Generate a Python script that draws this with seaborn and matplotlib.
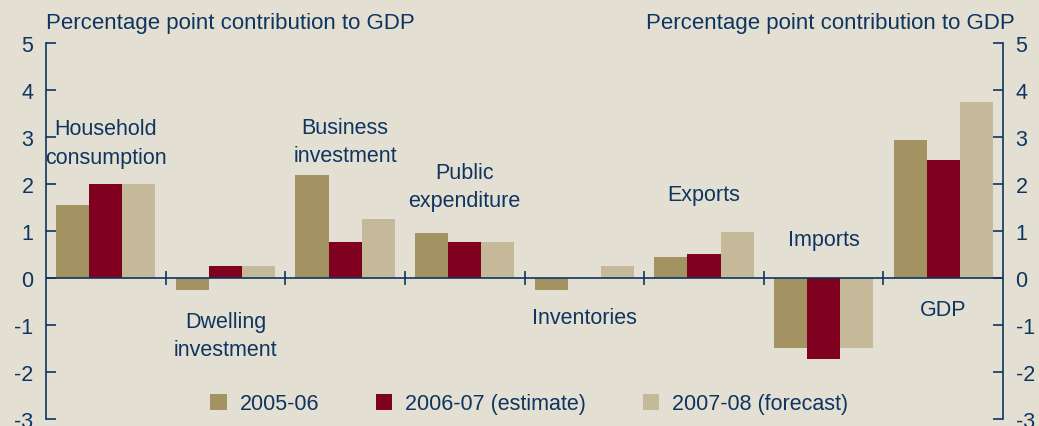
import pandas as pd
import seaborn as sns
import matplotlib.pyplot as plt

# Chart data
categories = ["Household\nconsumption", "Dwelling\ninvestment", "Business\ninvestment",
              "Public\nexpenditure", "Inventories", "Exports", "Imports", "GDP"]
series = ["2005-06", "2006-07 (estimate)", "2007-08 (forecast)"]
v_2005 = [1.55, -0.25, 2.2, 0.95, -0.25, 0.45, -1.5, 2.93]
v_2006 = [2.0, 0.25, 0.77, 0.77, 0.0, 0.52, -1.72, 2.5]
v_2007 = [2.0, 0.25, 1.25, 0.77, 0.25, 0.98, -1.5, 3.75]
# label anchor heights (data units)
label_y = [2.87, -1.22, 2.9, 1.95, -0.85, 1.78, 0.82, -0.68]

bg = "#E4DFD3"
ink = "#0E3560"
palette = {"2005-06": "#A39262", "2006-07 (estimate)": "#800020", "2007-08 (forecast)": "#C6B99A"}

sns.set_theme(style="white")
plt.rcParams['font.family'] = ['Liberation Sans', 'DejaVu Sans']
plt.rcParams['axes.unicode_minus'] = False

df = pd.DataFrame({
    "category": categories * 3,
    "series": [series[0]] * 8 + [series[1]] * 8 + [series[2]] * 8,
    "value": v_2005 + v_2006 + v_2007,
})

fig = plt.figure(figsize=(10.39, 4.27), dpi=100, facecolor=bg)
ax = fig.add_axes([0.0443, 0.0164, 0.9211, 0.8806])
ax.set_facecolor(bg)

sns.barplot(data=df, x="category", y="value", hue="series", hue_order=series,
            palette=palette, width=0.83, gap=0, saturation=1, errorbar=None,
            linewidth=0, ax=ax)

ax.set_xlim(-0.5, len(categories) - 0.5)
ax.set_ylim(-3, 5)
ax.set_xlabel("")
ax.set_ylabel("")
ax.set_xticks([])
ax.set_yticks(range(-3, 6))

for side in ["top", "bottom"]:
    ax.spines[side].set_visible(False)
for side in ["left", "right"]:
    ax.spines[side].set_color(ink)
    ax.spines[side].set_linewidth(1.2)

ax.tick_params(axis="y", direction="in", length=7, width=1.2, color=ink,
               labelcolor=ink, labelsize=15.5, left=True, right=True,
               labelleft=True, labelright=True, pad=9)

# zero line and category divider ticks
ax.axhline(0, color=ink, lw=1.2, zorder=3)
dividers = [i + 0.5 for i in range(len(categories) - 1)]
ax.vlines(dividers, -0.15, 0.15, color=ink, lw=1.2, zorder=3)

for i, (lab, ly) in enumerate(zip(categories, label_y)):
    ax.text(i, ly, lab, ha="center", va="center", fontsize=15.5, color=ink,
            linespacing=1.45)

fig.text(0.0443, 0.945, "Percentage point contribution to GDP", ha="left",
         va="center", fontsize=16, color=ink)
fig.text(0.977, 0.945, "Percentage point contribution to GDP", ha="right",
         va="center", fontsize=16, color=ink)

ax.legend(loc="center", bbox_to_anchor=(0.505, 0.04), ncol=3, frameon=False,
          fontsize=15.5, labelcolor=ink, handlelength=0.75, handleheight=0.75,
          handletextpad=0.6, columnspacing=2.65)

fig.savefig("out.png", dpi=100, facecolor=bg)
